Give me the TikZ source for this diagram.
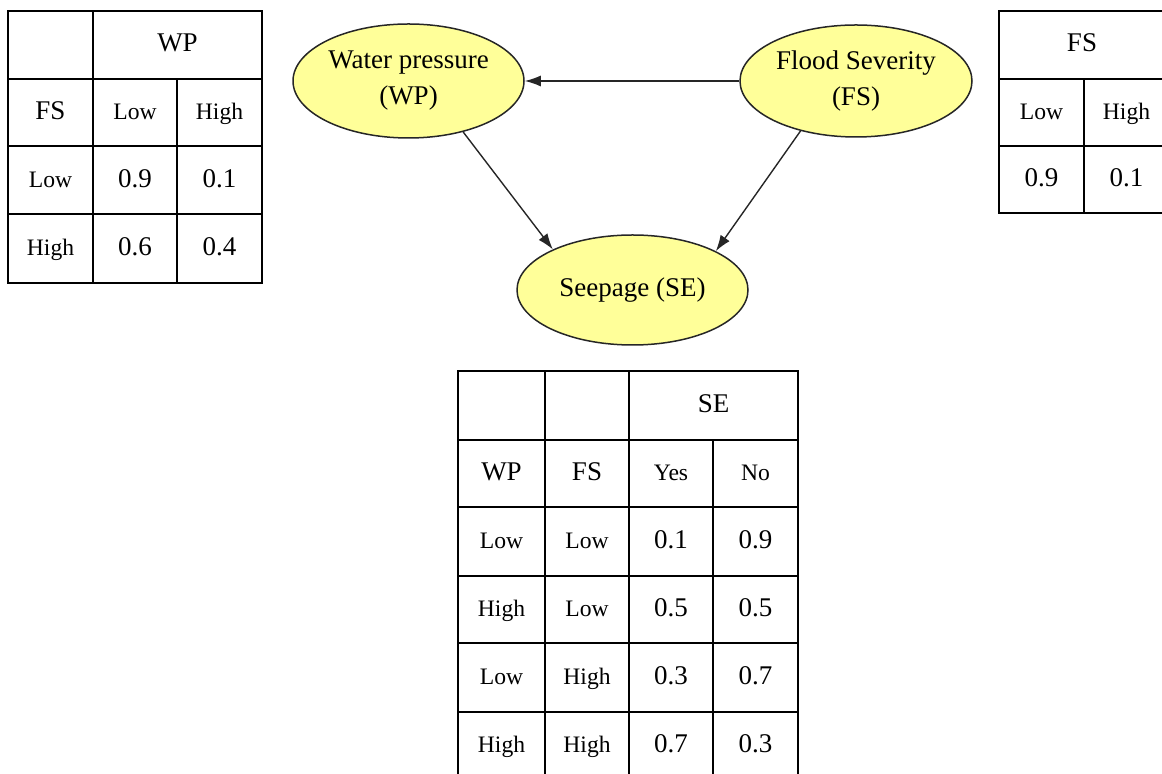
\documentclass[tikz,border=0pt]{standalone}
\usepackage{fontspec}
\setmainfont{Liberation Serif}
\usetikzlibrary{shapes.geometric, arrows.meta, positioning}

\definecolor{nodeyellow}{RGB}{255,255,153}
\newcommand\bigtxt{\fontsize{13.5}{18}\selectfont}
\newcommand\smalltxt{\fontsize{11.8}{14}\selectfont}

\tikzset{
    var/.style={ellipse, draw=black!85, fill=nodeyellow, line width=0.75pt,
                inner sep=0pt, align=center, font=\bigtxt},
    hd/.style={font=\bigtxt, inner sep=0pt, text height=0.68em, text depth=0pt},
    lv/.style={font=\smalltxt, inner sep=0pt, text height=0.68em, text depth=0pt},
    rule/.style={line width=1pt},
    dep/.style={-{Latex[length=8pt,width=5.5pt]}, line width=0.7pt, black!85}
}

\begin{document}
\begin{tikzpicture}[x=0.5pt, y=-0.5pt]
    \useasboundingbox (0,0) rectangle (1162,774);
    \clip (0,0) rectangle (1162,774);

    % network
    \node[var, minimum width=115.5pt, minimum height=57pt] (WP) at (408.5,81)  {Water pressure\\(WP)};
    \node[var, minimum width=116pt,   minimum height=56pt] (FS) at (856,81)    {Flood Severity\\(FS)};
    \node[var, minimum width=115.5pt, minimum height=55pt] (SE) at (632.5,290) {Seepage (SE)};

    \draw[dep] (FS.west) -- (WP.east);
    \draw[dep] (WP.-43)  -- (SE.153);
    \draw[dep] (FS.-138) -- (SE.25);

    % table of WP given FS
    \draw[rule] (8,11) rectangle (262,283);
    \draw[rule] (93,11) -- (93,283);
    \draw[rule] (177,79) -- (177,283);
    \foreach \y in {79,146,214}
        \draw[rule] (8,\y) -- (262,\y);
    \node[hd] (wp-head) at (177.5,45)  {WP};
    \node[hd] (wp-fs)   at (50.5,112.5) {FS};
    \node[lv] (wp-low)  at (135,112.5)  {Low};
    \node[lv] (wp-high) at (219.5,112.5) {High};
    \foreach \fs/\lo/\hi [count=\r] in {Low/0.9/0.1, High/0.6/0.4} {
        \pgfmathsetmacro\yc{112.5+68*\r}
        \node[lv] (wp-row\r)   at (50.5,\yc)  {\fs};
        \node[hd] (wp-row\r-l) at (135,\yc)   {\lo};
        \node[hd] (wp-row\r-h) at (219.5,\yc) {\hi};
    }

    % table of FS
    \draw[rule] (999,11) rectangle (1169,213);
    \draw[rule] (1084,79) -- (1084,213);
    \foreach \y in {79,146}
        \draw[rule] (999,\y) -- (1169,\y);
    \node[hd] (fs-head) at (1082,45)      {FS};
    \node[lv] (fs-low)  at (1041.5,112.5) {Low};
    \node[lv] (fs-high) at (1126.5,112.5) {High};
    \node[hd] (fs-p-l)  at (1041.5,179.5) {0.9};
    \node[hd] (fs-p-h)  at (1126.5,179.5) {0.1};

    % table of SE given WP and FS
    \draw[rule] (458,780) -- (458,371) -- (798,371) -- (798,780);
    \draw[rule] (545,371) -- (545,780);
    \draw[rule] (629,371) -- (629,780);
    \draw[rule] (713,440) -- (713,780);
    \foreach \y in {440,507,576,643,712}
        \draw[rule] (458,\y) -- (798,\y);
    \node[hd] (se-head) at (713.5,405.5) {SE};
    \node[hd] (se-wp)   at (501.5,473.5) {WP};
    \node[hd] (se-fs)   at (587,473.5)   {FS};
    \node[lv] (se-yes)  at (671,473.5)   {Yes};
    \node[lv] (se-no)   at (755.5,473.5) {No};
    \foreach \wp/\fs/\yes/\no [count=\r] in {Low/Low/0.1/0.9, High/Low/0.5/0.5, Low/High/0.3/0.7, High/High/0.7/0.3} {
        \pgfmathsetmacro\yc{473.5+68*\r}
        \node[lv] (se-row\r-wp) at (501.5,\yc) {\wp};
        \node[lv] (se-row\r-fs) at (587,\yc)   {\fs};
        \node[hd] (se-row\r-y)  at (671,\yc)   {\yes};
        \node[hd] (se-row\r-n)  at (755.5,\yc) {\no};
    }
\end{tikzpicture}
\end{document}
